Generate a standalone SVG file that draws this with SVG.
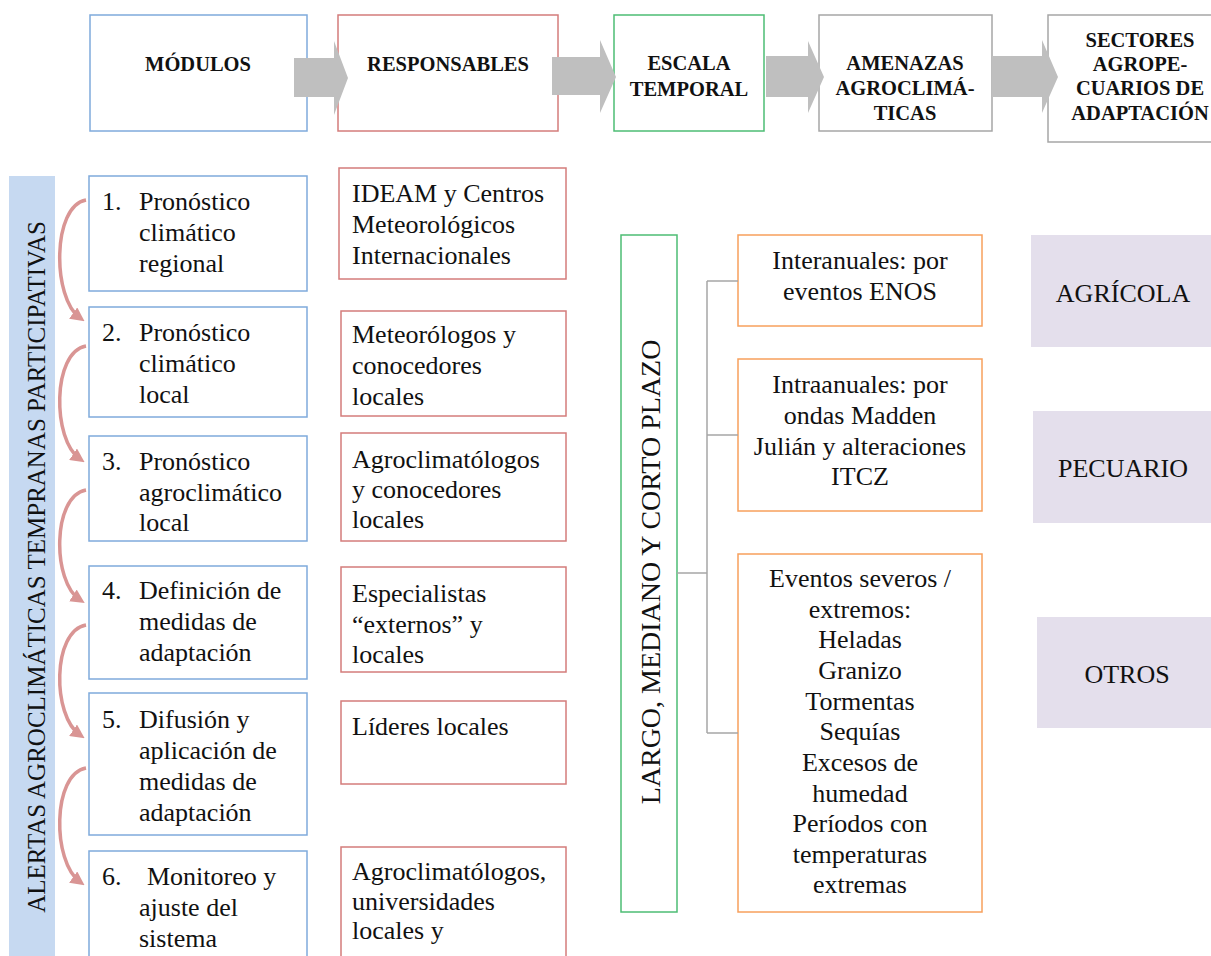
<svg xmlns="http://www.w3.org/2000/svg" width="1211" height="956" viewBox="0 0 1211 956">
<defs>
<style>
text{font-family:"Liberation Serif","Times New Roman",serif;fill:#111;}
.h{font-size:20.5px;font-weight:bold;text-anchor:middle;}
.t{font-size:26px;}
.c{font-size:26px;text-anchor:middle;}
.blue{fill:#fff;stroke:#7faadc;stroke-width:1.5;}
.red{fill:#fff;stroke:#d47c7b;stroke-width:1.5;}
.green{fill:#fff;stroke:#4dbd74;stroke-width:1.5;}
.gray{fill:#fff;stroke:#a6a6a6;stroke-width:1.5;}
.orange{fill:#fff;stroke:#f7a05c;stroke-width:1.5;}
.sector{fill:#e4dfec;}
.barr{fill:#bfbfbf;}
.curve{fill:none;stroke:#d99594;stroke-width:3.5;}
.conn{fill:none;stroke:#a6a6a6;stroke-width:1.5;}
</style>
<marker id="ah" viewBox="0 0 10 10" refX="6" refY="5" markerWidth="14" markerHeight="14" markerUnits="userSpaceOnUse" orient="auto">
<path d="M0,0 L10,5 L0,10 z" fill="#d99594"/>
</marker>
</defs>

<!-- header row -->
<g id="h-modulos"><rect class="blue" x="90" y="15" width="217" height="116"/><text class="h" x="198" y="71">MÓDULOS</text></g>
<g id="h-responsables"><rect class="red" x="338" y="15" width="220" height="116"/><text class="h" x="448" y="71">RESPONSABLES</text></g>
<g id="h-escala"><rect class="green" x="614" y="15" width="150" height="116"/><text class="h" x="689" y="70">ESCALA</text><text class="h" x="689" y="96">TEMPORAL</text></g>
<g id="h-amenazas"><rect class="gray" x="819" y="15" width="173" height="116"/><text class="h" x="905" y="70">AMENAZAS</text><text class="h" x="905" y="95">AGROCLIMÁ-</text><text class="h" x="905" y="120">TICAS</text></g>
<g id="h-sectores"><rect class="gray" x="1048" y="15" width="170" height="127"/><text class="h" x="1140" y="47">SECTORES</text><text class="h" x="1140" y="71">AGROPE-</text><text class="h" x="1140" y="95">CUARIOS DE</text><text class="h" x="1140" y="120">ADAPTACIÓN</text></g>

<g id="header-arrows">
<polygon class="barr" points="294,58 334,58 334,41 348,78 334,115 334,97 294,97"/>
<polygon class="barr" points="552,57 600,57 600,40 616,77 600,113 600,95 552,95"/>
<polygon class="barr" points="766,56 808,56 808,41 824,77 808,113 808,97 766,97"/>
<polygon class="barr" points="992,56 1042,56 1042,40 1058,77 1042,113 1042,97 992,97"/>
</g>

<!-- left vertical bar -->
<g id="bar-alertas">
<rect x="9" y="176" width="46" height="790" fill="#c6d9f1"/>
<text class="t" transform="translate(45,567) rotate(-90)" text-anchor="middle" style="font-size:25px">ALERTAS AGROCLIMÁTICAS TEMPRANAS PARTICIPATIVAS</text>
</g>

<!-- modules -->
<g id="m1"><rect class="blue" x="89" y="176" width="218" height="115"/>
<text class="t" x="102" y="210">1.</text><text class="t" x="139" y="210">Pronóstico</text><text class="t" x="139" y="241">climático</text><text class="t" x="139" y="272">regional</text></g>
<g id="m2"><rect class="blue" x="89" y="307" width="218" height="110"/>
<text class="t" x="102" y="341">2.</text><text class="t" x="139" y="341">Pronóstico</text><text class="t" x="139" y="372">climático</text><text class="t" x="139" y="403">local</text></g>
<g id="m3"><rect class="blue" x="89" y="436" width="218" height="105"/>
<text class="t" x="102" y="470">3.</text><text class="t" x="139" y="470">Pronóstico</text><text class="t" x="139" y="501">agroclimático</text><text class="t" x="139" y="531">local</text></g>
<g id="m4"><rect class="blue" x="89" y="566" width="218" height="113"/>
<text class="t" x="102" y="599">4.</text><text class="t" x="139" y="599">Definición de</text><text class="t" x="139" y="630">medidas de</text><text class="t" x="139" y="661">adaptación</text></g>
<g id="m5"><rect class="blue" x="89" y="693" width="218" height="142"/>
<text class="t" x="102" y="728">5.</text><text class="t" x="139" y="728">Difusión y</text><text class="t" x="139" y="759">aplicación de</text><text class="t" x="139" y="790">medidas de</text><text class="t" x="139" y="821">adaptación</text></g>
<g id="m6"><rect class="blue" x="89" y="851" width="218" height="120"/>
<text class="t" x="102" y="885">6.</text><text class="t" x="147" y="885">Monitoreo y</text><text class="t" x="139" y="916">ajuste del</text><text class="t" x="139" y="947">sistema</text></g>

<!-- responsables -->
<g id="r1"><rect class="red" x="339" y="168" width="227" height="111"/>
<text class="t" x="352" y="202">IDEAM y Centros</text><text class="t" x="352" y="233">Meteorológicos</text><text class="t" x="352" y="264">Internacionales</text></g>
<g id="r2"><rect class="red" x="341" y="311" width="225" height="105"/>
<text class="t" x="352" y="343">Meteorólogos y</text><text class="t" x="352" y="374">conocedores</text><text class="t" x="352" y="405">locales</text></g>
<g id="r3"><rect class="red" x="341" y="433" width="225" height="108"/>
<text class="t" x="352" y="468">Agroclimatólogos</text><text class="t" x="352" y="498">y conocedores</text><text class="t" x="352" y="528">locales</text></g>
<g id="r4"><rect class="red" x="341" y="567" width="225" height="105"/>
<text class="t" x="352" y="602">Especialistas</text><text class="t" x="352" y="633">“externos” y</text><text class="t" x="352" y="663">locales</text></g>
<g id="r5"><rect class="red" x="341" y="701" width="225" height="83"/>
<text class="t" x="352" y="735">Líderes locales</text></g>
<g id="r6"><rect class="red" x="341" y="847" width="225" height="120"/>
<text class="t" x="352" y="880">Agroclimatólogos,</text><text class="t" x="352" y="910">universidades</text><text class="t" x="352" y="939">locales y</text></g>

<!-- escala temporal -->
<g id="largo"><rect class="green" x="621" y="235" width="56" height="677"/>
<text class="t" transform="translate(660,572) rotate(-90)" text-anchor="middle" style="font-size:28px">LARGO, MEDIANO Y CORTO PLAZO</text></g>

<!-- amenazas -->
<g id="a1"><rect class="orange" x="738" y="235" width="244" height="91"/>
<text class="c" x="860" y="269">Interanuales: por</text><text class="c" x="860" y="300">eventos ENOS</text></g>
<g id="a2"><rect class="orange" x="738" y="359" width="244" height="152"/>
<text class="c" x="860" y="393">Intraanuales: por</text><text class="c" x="860" y="424">ondas Madden</text><text class="c" x="860" y="455">Julián y alteraciones</text><text class="c" x="860" y="485">ITCZ</text></g>
<g id="a3"><rect class="orange" x="738" y="554" width="244" height="358"/>
<text class="c" x="860" y="587">Eventos severos /</text><text class="c" x="860" y="618">extremos:</text><text class="c" x="860" y="648">Heladas</text><text class="c" x="860" y="679">Granizo</text><text class="c" x="860" y="710">Tormentas</text><text class="c" x="860" y="740">Sequías</text><text class="c" x="860" y="771">Excesos de</text><text class="c" x="860" y="802">humedad</text><text class="c" x="860" y="832">Períodos con</text><text class="c" x="860" y="863">temperaturas</text><text class="c" x="860" y="893">extremas</text></g>

<!-- sectores -->
<g id="s1"><rect class="sector" x="1031" y="235" width="180" height="112"/><text class="c" x="1123" y="302">AGRÍCOLA</text></g>
<g id="s2"><rect class="sector" x="1033" y="411" width="178" height="112"/><text class="c" x="1123" y="477">PECUARIO</text></g>
<g id="s3"><rect class="sector" x="1037" y="617" width="174" height="111"/><text class="c" x="1127" y="683">OTROS</text></g>

<!-- connectors -->
<g id="connectors">
<path class="conn" d="M677,573 H707 M707,281 V733 M707,281 H738 M707,435 H738 M707,733 H738"/>
<path class="curve" marker-end="url(#ah)" d="M86,200 C52,206 52,298 80,318"/>
<path class="curve" marker-end="url(#ah)" d="M86,346 C52,352 52,440 80,459"/>
<path class="curve" marker-end="url(#ah)" d="M86,490 C52,496 52,582 80,600"/>
<path class="curve" marker-end="url(#ah)" d="M86,625 C52,631 52,716 80,735"/>
<path class="curve" marker-end="url(#ah)" d="M86,768 C52,774 52,862 80,882"/>
</g>
</svg>
